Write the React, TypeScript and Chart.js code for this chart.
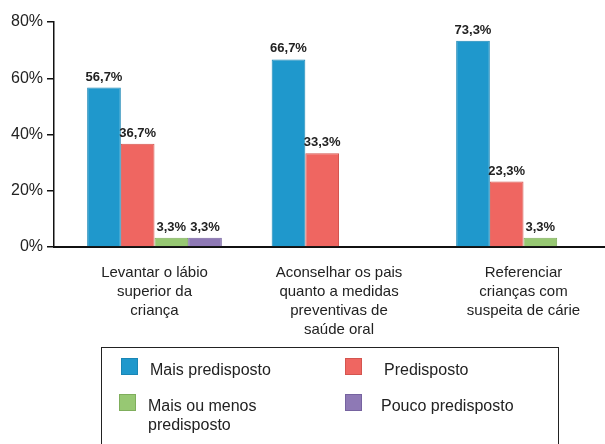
import React, { useEffect, useRef } from "react";
import { Chart, registerables } from "chart.js";

Chart.register(...registerables);

const categories: string[][] = [
  ["Levantar o lábio", "superior da", "criança"],
  ["Aconselhar os pais", "quanto a medidas", "preventivas de", "saúde oral"],
  ["Referenciar", "crianças com", "suspeita de cárie"],
];

const seriesNames = ["Mais predisposto", "Predisposto", "Mais ou menos predisposto", "Pouco predisposto"];
const legendLines: string[][] = [["Mais predisposto"], ["Predisposto"], ["Mais ou menos", "predisposto"], ["Pouco predisposto"]];

const maisPredisposto = [56.7, 66.7, 73.3];
const predisposto = [36.7, 33.3, 23.3];
const maisOuMenos = [3.3, 0, 3.3];
const poucoPredisposto = [3.3, 0, 0];

const yTicks = [0, 20, 40, 60, 80];

const fills = ["#1f98cc", "#ef6661", "#97c873", "#8e79b5"];
const borders = ["#1a86b5", "#d4554f", "#7fae5c", "#7663a0"];

const FONT = "'Liberation Sans', Arial, Helvetica, sans-serif";

const fmt = (v: number) => v.toFixed(1).replace(".", ",") + "%";

const valueLabels = {
  id: "valueLabels",
  afterDatasetsDraw(chart: any) {
    const ctx = chart.ctx;
    ctx.save();
    ctx.font = `bold 13px ${FONT}`;
    ctx.fillStyle = "#222";
    ctx.textAlign = "center";
    ctx.textBaseline = "bottom";
    chart.data.datasets.forEach((ds: any, di: number) => {
      const meta = chart.getDatasetMeta(di);
      meta.data.forEach((bar: any, i: number) => {
        const v = ds.data[i];
        if (!v) return;
        ctx.fillText(fmt(v), bar.x, bar.y - 4);
      });
    });
    ctx.restore();
  },
};

export default function App() {
  const ref = useRef<HTMLCanvasElement>(null);
  useEffect(() => {
    const seriesData = [maisPredisposto, predisposto, maisOuMenos, poucoPredisposto];
    const chart = new Chart(ref.current!, {
      type: "bar",
      data: {
        labels: categories,
        datasets: seriesData.map((d, i) => ({
          label: seriesNames[i],
          data: d,
          backgroundColor: fills[i],
          borderColor: borders[i],
          borderWidth: 1,
          categoryPercentage: 0.73,
          barPercentage: 1,
        })),
      },
      options: {
        animation: false,
        responsive: false,
        maintainAspectRatio: false,
        layout: { padding: { top: 22, right: 0, left: 0, bottom: 0 } },
        plugins: { legend: { display: false }, tooltip: { enabled: false } },
        scales: {
          x: {
            grid: { display: false },
            border: { display: true, color: "#111", width: 2 },
            ticks: {
              color: "#222",
              font: { family: FONT, size: 15, lineHeight: 1.27 },
              padding: 8,
              maxRotation: 0,
              autoSkip: false,
            },
            afterFit: (s: any) => {
              s.height = 444 - 247;
            },
            afterBuildTicks: (s: any) => {
              s._startValue = -0.5447;
              s._valueRange = 2.9864;
            },
          },
          y: {
            min: 0,
            max: 80,
            afterBuildTicks: (s: any) => {
              s.ticks = yTicks.map((v) => ({ value: v }));
            },
            grid: { drawOnChartArea: false, drawTicks: true, tickLength: 7, color: "#111", lineWidth: 1.5 },
            border: { display: true, color: "#111", width: 1.5 },
            ticks: {
              color: "#222",
              font: { family: FONT, size: 16 },
              padding: 4,
              callback: (v: any) => v + "%",
            },
            afterFit: (s: any) => {
              s.width = 54;
            },
          },
        },
      },
      plugins: [valueLabels],
    });
    return () => chart.destroy();
  }, []);

  const legendPos = [
    { sx: 121, sy: 358, tx: 150 },
    { sx: 345, sy: 358, tx: 384 },
    { sx: 119, sy: 394, tx: 148 },
    { sx: 345, sy: 394, tx: 381 },
  ];

  return (
    <div style={{ position: "fixed", left: 0, top: 0, width: 605, height: 444, overflow: "hidden", background: "#fff" }}>
      <canvas ref={ref} width={605} height={444} style={{ position: "absolute", left: 0, top: 0, width: 605, height: 444 }} />
      <div
        style={{
          position: "absolute",
          left: 101,
          top: 347,
          width: 458,
          height: 120,
          border: "1.5px solid #222",
          boxSizing: "border-box",
        }}
      />
      {legendPos.map((p, i) => (
        <React.Fragment key={i}>
          <div
            style={{
              position: "absolute",
              left: p.sx,
              top: p.sy,
              width: 17,
              height: 17,
              background: fills[i],
              border: `1px solid ${borders[i]}`,
              boxSizing: "border-box",
            }}
          />
          <div
            style={{
              position: "absolute",
              left: p.tx,
              top: p.sy + 2,
              fontFamily: FONT,
              fontSize: 16,
              lineHeight: "19px",
              color: "#222",
              whiteSpace: "nowrap",
            }}
          >
            {legendLines[i].map((l, j) => (
              <div key={j}>{l}</div>
            ))}
          </div>
        </React.Fragment>
      ))}
    </div>
  );
}
